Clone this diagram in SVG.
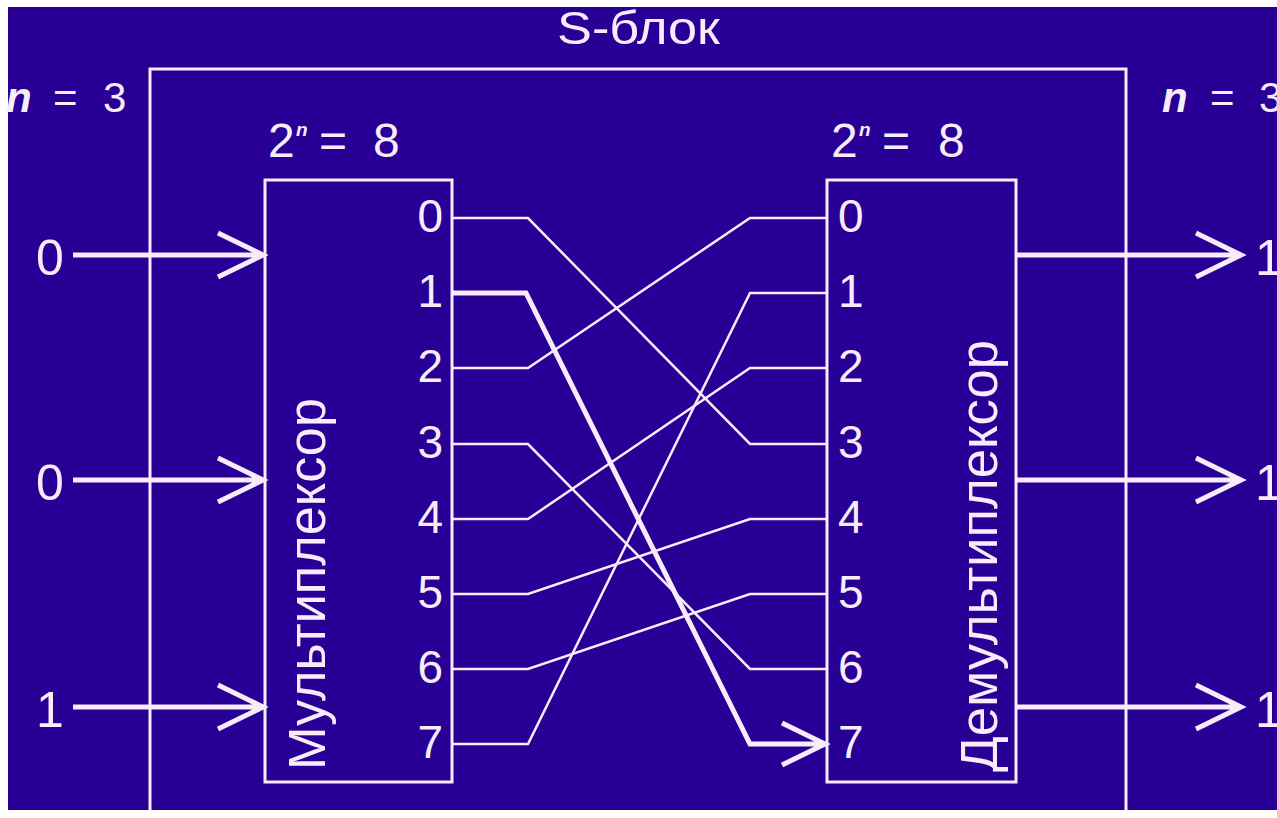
<svg xmlns="http://www.w3.org/2000/svg" width="1277" height="818" viewBox="0 0 1277 818">
<style>
.t{font-family:"Liberation Sans",Arial,sans-serif;fill:#f7ecf9}
.ln{stroke:#f7ecf9;fill:none;stroke-width:2.5}
.th{stroke:#f7ecf9;fill:none;stroke-width:5}
.box{stroke:#f7ecf9;fill:none;stroke-width:3}
.bi{font-weight:bold;font-style:italic}
</style>
<rect x="0" y="0" width="1277" height="818" fill="#ffffff"/>
<rect x="8" y="7" width="1269" height="803" fill="#290096"/>
<g id="sblock">
<path class="box" d="M150,810 V69 H1126 V810"/>
<text class="t" x="557" y="44" font-size="46" textLength="163" lengthAdjust="spacingAndGlyphs">S-блок</text>
</g>
<g id="n-left">
<text class="t" font-size="42" y="112"><tspan class="bi" x="6">n</tspan><tspan x="53">=</tspan><tspan x="103">3</tspan></text>
</g>
<g id="n-right">
<text class="t" font-size="42" y="112"><tspan class="bi" x="1162">n</tspan><tspan x="1210">=</tspan><tspan x="1259">3</tspan></text>
</g>
<g id="mux">
<rect class="box" x="265" y="180" width="187" height="602"/>
<text class="t" font-size="48" y="157"><tspan x="268">2</tspan><tspan class="bi" font-size="19" x="296" y="136">n</tspan><tspan x="319" y="157">=</tspan><tspan x="373" y="157">8</tspan></text>
<text class="t" font-size="51" transform="translate(325,770) rotate(-90)" textLength="372" lengthAdjust="spacingAndGlyphs">Мультиплексор</text>
<g class="t" font-size="46" text-anchor="end">
<text x="443" y="232">0</text>
<text x="443" y="307">1</text>
<text x="443" y="382">2</text>
<text x="443" y="458">3</text>
<text x="443" y="533">4</text>
<text x="443" y="608">5</text>
<text x="443" y="683">6</text>
<text x="443" y="758">7</text>
</g>
</g>
<g id="demux">
<rect class="box" x="827" y="180" width="189" height="602"/>
<text class="t" font-size="48" y="157"><tspan x="831">2</tspan><tspan class="bi" font-size="19" x="859" y="136">n</tspan><tspan x="882" y="157">=</tspan><tspan x="938" y="157">8</tspan></text>
<text class="t" font-size="51" transform="translate(997,772) rotate(-90)" textLength="432" lengthAdjust="spacingAndGlyphs">Демультиплексор</text>
<g class="t" font-size="46">
<text x="838" y="232">0</text>
<text x="838" y="307">1</text>
<text x="838" y="382">2</text>
<text x="838" y="458">3</text>
<text x="838" y="533">4</text>
<text x="838" y="608">5</text>
<text x="838" y="683">6</text>
<text x="838" y="758">7</text>
</g>
</g>
<g id="inputs" class="t" font-size="50" text-anchor="middle">
<text x="50" y="275">0</text>
<text x="50" y="500">0</text>
<text x="50" y="727">1</text>
</g>
<g id="outputs" class="t" font-size="50">
<text x="1255" y="275">1</text>
<text x="1255" y="500">1</text>
<text x="1255" y="727">1</text>
</g>
<g id="connectors">
<path class="th" d="M73,255 H263 M218,233 L263,255 L218,277"/>
<path class="th" d="M73,480 H263 M218,458 L263,480 L218,502"/>
<path class="th" d="M73,707 H263 M218,685 L263,707 L218,729"/>
<path class="th" d="M1016,255 H1241 M1196,233 L1241,255 L1196,277"/>
<path class="th" d="M1016,480 H1241 M1196,458 L1241,480 L1196,502"/>
<path class="th" d="M1016,707 H1241 M1196,685 L1241,707 L1196,729"/>
<path class="ln" d="M452,218 H528 L750,444 H827"/>
<path class="ln" d="M452,368 H528 L750,218 H827"/>
<path class="ln" d="M452,444 H528 L750,669 H827"/>
<path class="ln" d="M452,519 H528 L750,368 H827"/>
<path class="ln" d="M452,594 H528 L750,519 H827"/>
<path class="ln" d="M452,669 H528 L750,594 H827"/>
<path class="ln" d="M452,744 H528 L750,293 H827"/>
<path class="th" d="M452,293 H526 L750,744 H825 M782,723 L825,744 L782,765"/>
</g>
</svg>
